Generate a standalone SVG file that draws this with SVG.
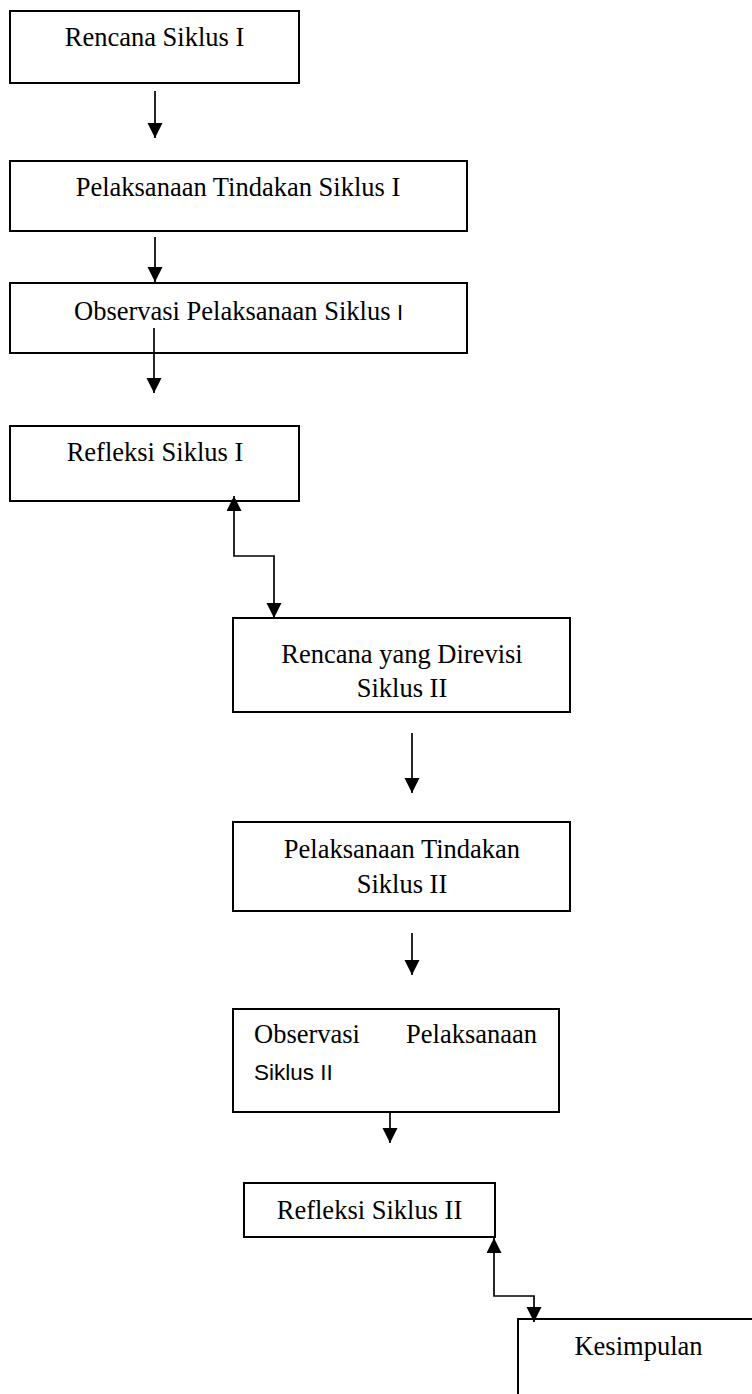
<svg xmlns="http://www.w3.org/2000/svg" width="752" height="1394" viewBox="0 0 752 1394">
<style>
.box{fill:#fff;stroke:#000;stroke-width:2}
.t{font-family:"Liberation Serif","Times New Roman",serif;font-size:26.5px;fill:#000}
.s{font-family:"Liberation Sans",Arial,sans-serif;font-size:22.5px;fill:#000}
.c{fill:none;stroke:#000;stroke-width:1.7}
</style>
<defs>
<marker id="ah" markerUnits="userSpaceOnUse" markerWidth="16" markerHeight="16" refX="15" refY="7.5" orient="auto-start-reverse">
<path d="M0,0 L15,7.5 L0,15 z" fill="#000"/>
</marker>
</defs>
<rect width="752" height="1394" fill="#fff"/>
<g id="n1"><rect class="box" x="10" y="11" width="289" height="72"/><text class="t" x="154.5" y="46" text-anchor="middle">Rencana Siklus I</text></g>
<g id="n2"><rect class="box" x="10" y="161" width="457" height="70"/><text class="t" x="238" y="196" text-anchor="middle">Pelaksanaan Tindakan Siklus I</text></g>
<g id="n3"><rect class="box" x="10" y="283" width="457" height="70"/><text class="t" x="74" y="320">Observasi Pelaksanaan Siklus <tspan font-family="Liberation Sans, Arial, sans-serif" font-size="22">I</tspan></text></g>
<g id="n4"><rect class="box" x="10" y="426" width="289" height="75"/><text class="t" x="155" y="461" text-anchor="middle">Refleksi Siklus I</text></g>
<g id="n5"><rect class="box" x="233" y="618" width="337" height="94"/><text class="t" x="402" y="663" text-anchor="middle">Rencana yang Direvisi</text><text class="t" x="402" y="697" text-anchor="middle">Siklus II</text></g>
<g id="n6"><rect class="box" x="233" y="822" width="337" height="89"/><text class="t" x="402" y="858" text-anchor="middle">Pelaksanaan Tindakan</text><text class="t" x="402" y="893" text-anchor="middle">Siklus II</text></g>
<g id="n7"><rect class="box" x="233" y="1009" width="326" height="103"/><text class="t" x="254" y="1043">Observasi</text><text class="t" x="537" y="1043" text-anchor="end">Pelaksanaan</text><text class="s" x="254" y="1080">Siklus II</text></g>
<g id="n8"><rect class="box" x="244" y="1183" width="251" height="54"/><text class="t" x="369.5" y="1219" text-anchor="middle">Refleksi Siklus II</text></g>
<g id="n9"><rect class="box" x="518" y="1319" width="250" height="100"/><text class="t" x="638.5" y="1355" text-anchor="middle">Kesimpulan</text></g>
<g id="connectors">
<path class="c" d="M155,91 L155,138" marker-end="url(#ah)"/>
<path class="c" d="M155,237 L155,282" marker-end="url(#ah)"/>
<path class="c" d="M154,328 L154,393" marker-end="url(#ah)"/>
<path class="c" d="M234,496 L234,556 L274,556 L274,618" marker-start="url(#ah)" marker-end="url(#ah)"/>
<path class="c" d="M412,733 L412,793" marker-end="url(#ah)"/>
<path class="c" d="M412,933 L412,975" marker-end="url(#ah)"/>
<path class="c" d="M390,1112 L390,1143" marker-end="url(#ah)"/>
<path class="c" d="M494,1238 L494,1296 L534,1296 L534,1322" marker-start="url(#ah)" marker-end="url(#ah)"/>
</g>
</svg>
